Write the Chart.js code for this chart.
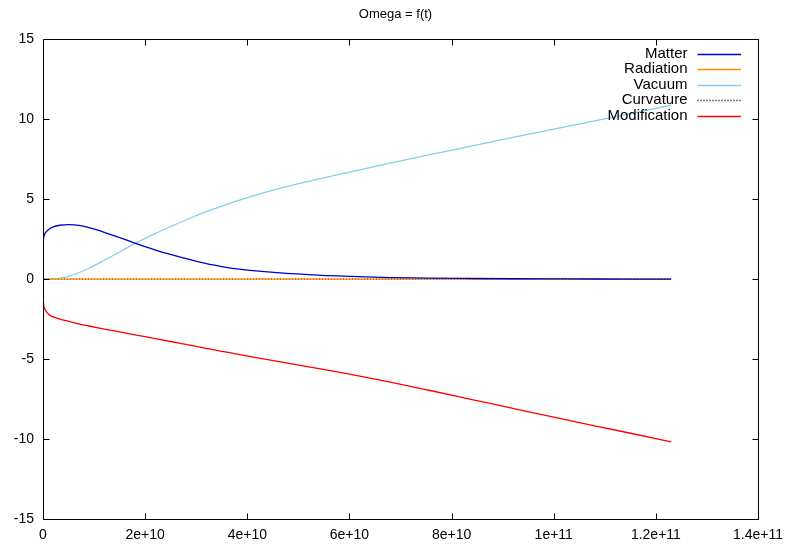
<!DOCTYPE html>
<html>
<head>
<meta charset="utf-8">
<script src="https://cdn.jsdelivr.net/npm/chart.js@4/dist/chart.umd.min.js"></script>
<style>
  html, body { margin: 0; padding: 0; background: #ffffff; }
  #wrap { width: 791px; height: 545px; }
</style>
</head>
<body>
<div id="wrap"><canvas id="c" width="791" height="545"></canvas></div>
<script>
// Cosmic time samples (years) and the density parameters at each sample
const t = [0, 0.1e9, 0.3e9, 0.7e9, 1.3e9, 2e9, 3.3e9, 5e9, 7e9, 9e9, 12e9, 15e9, 18e9, 22e9,
           25.5e9, 29e9, 32e9, 35e9, 38e9, 44e9, 52e9, 60e9, 68e9, 76e9, 84e9, 92e9, 100e9,
           108e9, 116e9, 123e9];

const matter = [2.2, 2.5, 2.8, 2.98, 3.15, 3.27, 3.37, 3.41, 3.36, 3.22, 2.93, 2.6, 2.25, 1.82,
                1.5, 1.2, 0.97, 0.79, 0.64, 0.45, 0.28, 0.17, 0.1, 0.06, 0.04, 0.025, 0.016,
                0.01, 0.007, 0.005];

const radiation = [0, 0, 0, 0, 0, 0, 0, 0, 0, 0, 0, 0, 0, 0, 0, 0, 0, 0, 0, 0, 0, 0, 0, 0, 0,
                   0, 0, 0, 0, 0];

const vacuum = [0, 0, 0, 0.005, 0.01, 0.02, 0.06, 0.18, 0.4, 0.68, 1.18, 1.7, 2.22, 2.86,
                3.36, 3.84, 4.22, 4.57, 4.9, 5.48, 6.12, 6.7, 7.26, 7.8, 8.33, 8.86, 9.38,
                9.9, 10.42, 10.88];

const curvature = [0, 0, 0, 0, 0, 0, 0, 0, 0, 0, 0, 0, 0, 0, 0, 0, 0, 0, 0, 0, 0, 0, 0, 0, 0,
                   0, 0, 0, 0, 0];

const modification = [-1.2, -1.5, -1.83, -2.05, -2.25, -2.36, -2.5, -2.64, -2.8, -2.93, -3.12,
                      -3.3, -3.48, -3.72, -3.93, -4.14, -4.33, -4.51, -4.69, -5.03, -5.48,
                      -5.94, -6.44, -6.98, -7.53, -8.08, -8.63, -9.17, -9.7, -10.17];

const seriesNames = ['Matter', 'Radiation', 'Vacuum', 'Curvature', 'Modification'];
const xTicks = [0, 2e10, 4e10, 6e10, 8e10, 1e11, 1.2e11, 1.4e11];
const yTicks = [-15, -10, -5, 0, 5, 10, 15];

const FONT = '"Liberation Sans", Arial, Helvetica, sans-serif';

function pts(ys) { return t.map((x, i) => ({ x: x, y: ys[i] })); }

// gnuplot-like exponent labels: 2e+10, 1.2e+11
function expLabel(v) {
  if (v === 0) return '0';
  const e = Math.floor(Math.log10(Math.abs(v)) + 1e-9);
  const m = parseFloat((v / Math.pow(10, e)).toPrecision(6));
  return m + 'e+' + e;
}

// Frame around the plot area with inward tick marks on all four sides
const framePlugin = {
  id: 'frame',
  afterDatasetsDraw(chart) {
    const { ctx, chartArea: a, scales } = chart;
    const L = Math.round(a.left) + 0.5, R = Math.round(a.right) + 0.5;
    const T = Math.round(a.top) + 0.5, B = Math.round(a.bottom) + 0.5;
    const len = 6;
    ctx.save();
    ctx.strokeStyle = '#000';
    ctx.lineWidth = 1;
    ctx.beginPath();
    ctx.rect(L, T, R - L, B - T);
    scales.x.ticks.forEach(tk => {
      const px = Math.round(scales.x.getPixelForValue(tk.value)) + 0.5;
      ctx.moveTo(px, B); ctx.lineTo(px, B - len);
      ctx.moveTo(px, T); ctx.lineTo(px, T + len);
    });
    scales.y.ticks.forEach(tk => {
      const py = Math.round(scales.y.getPixelForValue(tk.value)) + 0.5;
      ctx.moveTo(L, py); ctx.lineTo(L + len, py);
      ctx.moveTo(R, py); ctx.lineTo(R - len, py);
    });
    ctx.stroke();
    ctx.restore();
  }
};

// Key in the top-right corner: right-aligned name followed by a line sample
const keyPlugin = {
  id: 'key',
  afterDraw(chart) {
    const { ctx } = chart;
    const textRight = 687.5, lineStart = 697.5, lineEnd = 741;
    const firstRow = 53.5, rowStep = 15.5;
    ctx.save();
    ctx.font = '15px ' + FONT;
    ctx.textAlign = 'right';
    ctx.textBaseline = 'middle';
    chart.data.datasets.forEach((ds, i) => {
      const y = firstRow + i * rowStep;
      ctx.fillStyle = '#000';
      ctx.fillText(ds.label, textRight, y);
      ctx.strokeStyle = ds.borderColor;
      ctx.lineWidth = ds.borderWidth;
      ctx.setLineDash(ds.borderDash || []);
      ctx.beginPath();
      ctx.moveTo(lineStart, Math.round(y) + 0.5);
      ctx.lineTo(lineEnd, Math.round(y) + 0.5);
      ctx.stroke();
    });
    ctx.restore();
  }
};

const common = { pointRadius: 0, fill: false, cubicInterpolationMode: 'monotone', borderWidth: 1.3 };

new Chart(document.getElementById('c'), {
  type: 'line',
  data: {
    datasets: [
      Object.assign({ label: seriesNames[0], data: pts(matter), borderColor: '#0000cc' }, common),
      Object.assign({ label: seriesNames[1], data: pts(radiation), borderColor: '#ff8c00' }, common),
      Object.assign({ label: seriesNames[2], data: pts(vacuum), borderColor: '#87ceeb' }, common),
      Object.assign({ label: seriesNames[3], data: pts(curvature), borderColor: '#000000', borderDash: [1, 2] }, common),
      Object.assign({ label: seriesNames[4], data: pts(modification), borderColor: '#ff0000' }, common)
    ]
  },
  options: {
    responsive: false,
    devicePixelRatio: 1,
    animation: false,
    layout: { padding: 0 },
    plugins: {
      legend: { display: false },
      tooltip: { enabled: false },
      title: {
        display: true,
        text: 'Omega = f(t)',
        color: '#000',
        font: { family: FONT, size: 13, weight: 'normal' },
        padding: { top: 7, bottom: 16.7 }
      }
    },
    scales: {
      x: {
        type: 'linear',
        min: 0,
        max: 1.4e11,
        afterBuildTicks(scale) { scale.ticks = xTicks.map(v => ({ value: v })); },
        afterFit(scale) { scale.height = 26; },
        grid: { display: false, drawTicks: false },
        border: { display: false },
        ticks: {
          autoSkip: false,
          maxRotation: 0,
          padding: 8,
          color: '#000',
          font: { family: FONT, size: 14 },
          callback: v => expLabel(v)
        }
      },
      y: {
        type: 'linear',
        min: -15,
        max: 15,
        afterBuildTicks(scale) { scale.ticks = yTicks.map(v => ({ value: v })); },
        afterFit(scale) { scale.width = 43; },
        grid: { display: false, drawTicks: false },
        border: { display: false },
        ticks: {
          padding: 9,
          color: '#000',
          font: { family: FONT, size: 14 },
          callback: v => String(v)
        }
      },
      // empty right-hand margin so the plot ends where the x range ends
      yMargin: {
        type: 'linear',
        position: 'right',
        min: -15,
        max: 15,
        afterFit(scale) { scale.width = 31; },
        grid: { display: false, drawTicks: false },
        border: { display: false },
        ticks: { display: false }
      }
    }
  },
  plugins: [framePlugin, keyPlugin]
});
</script>
</body>
</html>
